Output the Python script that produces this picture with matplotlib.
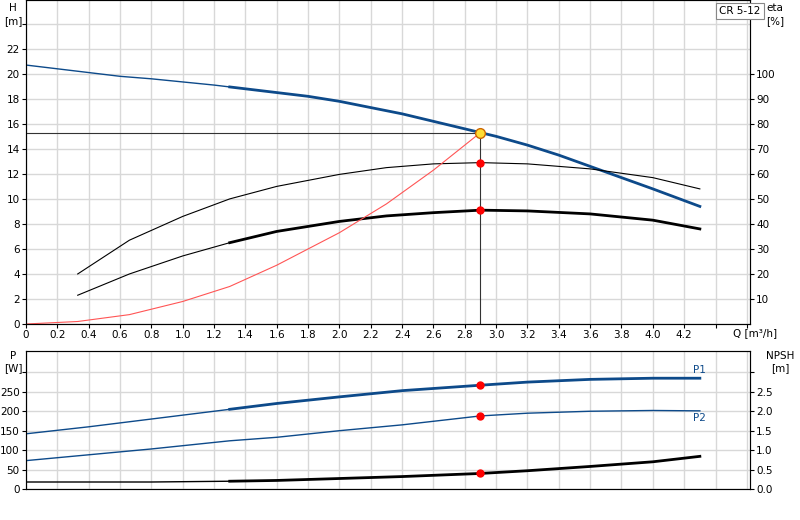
import numpy as np
import matplotlib.pyplot as plt

# pump curve (H) [m]
q_h = [0, 0.2, 0.4, 0.6, 0.8, 1.0, 1.2, 1.3, 1.4, 1.6, 1.8, 2.0, 2.2, 2.4, 2.6, 2.8, 2.9,
       3.0, 3.2, 3.4, 3.6, 3.8, 4.0, 4.3]
h = [20.7, 20.4, 20.1, 19.8, 19.6, 19.35, 19.1, 18.95, 18.8, 18.5, 18.2, 17.8, 17.3, 16.8,
     16.2, 15.6, 15.3, 15.0, 14.3, 13.5, 12.6, 11.7, 10.8, 9.4]
# efficiency curves [%]
q_eta = [0.33, 0.66, 1.0, 1.3, 1.6, 2.0, 2.3, 2.6, 2.9, 3.2, 3.6, 4.0, 4.3]
eta1 = [20, 33.5, 43, 50, 55, 59.8, 62.5, 64, 64.5, 64, 62, 58.5, 54]
eta2 = [11.5, 20, 27.2, 32.5, 37, 41, 43.2, 44.5, 45.5, 45.2, 44, 41.5, 38]
# system curve [m]
q_sys = [0, 0.33, 0.66, 1.0, 1.3, 1.6, 2.0, 2.3, 2.6, 2.9]
h_sys = [0, 0.2, 0.75, 1.8, 3.0, 4.7, 7.3, 9.6, 12.3, 15.3]
# duty point
q_duty = 2.9
h_duty = 15.3

# power [W] and NPSH [m]
q_p = [0, 0.4, 0.8, 1.3, 1.6, 2.0, 2.4, 2.9, 3.2, 3.6, 4.0, 4.3]
p1 = [142, 160, 180, 205, 220, 237, 253, 267, 275, 282, 285, 285]
p2 = [73, 88, 103, 124, 133, 150, 165, 188, 195, 200, 202, 201]
npsh = [0.18, 0.18, 0.18, 0.2, 0.22, 0.27, 0.32, 0.40, 0.47, 0.58, 0.70, 0.84]

blue = '#0d4a8a'
grid = '#d8d8d8'
plt.rcParams['font.size'] = 7.5

fig = plt.figure(figsize=(8, 5.2), dpi=100)
ax = fig.add_axes([26/800, 1-324/520, 724/800, 324/520])
axb = fig.add_axes([26/800, 1-489/520, 724/800, 138/520])


def split(x, y, q0=1.3):
    x = np.array(x); y = np.array(y)
    return (x[x <= q0], y[x <= q0]), (x[x >= q0], y[x >= q0])


for a in (ax, axb):
    a.set_xlim(0, 4.62)
    a.set_xticks(np.arange(0, 4.61, 0.2))
    a.grid(True, color=grid, lw=1)
    a.set_axisbelow(True)
    a.tick_params(length=3, pad=1.5)
    for s in a.spines.values():
        s.set_color('#444444')

# top
ax.set_ylim(0, 25.9)
ax.set_yticks(range(0, 25, 2))
ax.set_yticklabels([str(v) for v in range(0, 23, 2)] + [''])
xl = ['0'] + ['%.1f' % v for v in np.arange(0.2, 4.61, 0.2)]
ax.set_xticklabels(xl[:22] + [''] * (len(xl) - 22))
thin, thick = split(q_h, h)
ax.plot(*thin, color=blue, lw=1)
ax.plot(*thick, color=blue, lw=2)
qe = np.array(q_eta)
ax.plot(qe, np.array(eta1) / 5, color='black', lw=0.8)
t1, t2 = split(q_eta, np.array(eta2) / 5)
ax.plot(*t1, color='black', lw=0.8)
ax.plot(*t2, color='black', lw=2)
ax.plot(q_sys, h_sys, color='#ff5555', lw=0.8)
ax.plot([0, q_duty], [h_duty, h_duty], color='#333333', lw=0.8)
ax.plot([q_duty, q_duty], [0, h_duty], color='#333333', lw=0.8)
ax.plot(q_duty, np.interp(q_duty, q_eta, eta1) / 5, 'o', color='red', ms=5)
ax.plot(q_duty, np.interp(q_duty, q_eta, eta2) / 5, 'o', color='red', ms=5)
ax.plot(q_duty, h_duty, 'o', color='#ffdd33', mec='#cc6600', ms=7)
ax2 = ax.twinx()
ax2.set_ylim(0, 25.9 * 5)
ax2.set_yticks(range(10, 101, 10))
ax2.tick_params(length=3, pad=1.5)
fig.text(13/800, 1-8/520, 'H', ha='center', va='center')
fig.text(13/800, 1-21/520, '[m]', ha='center', va='center')
fig.text(775/800, 1-8/520, 'eta', ha='center', va='center')
fig.text(775/800, 1-21/520, '[%]', ha='center', va='center')
fig.text(740/800, 1-11/520, 'CR 5-12', ha='center', va='center',
         bbox=dict(boxstyle='square,pad=0.3', fc='white', ec='#888888', lw=0.8))
fig.text(733/800, 1-333/520, 'Q [m³/h]', ha='left', va='center')

# bottom
axb.set_ylim(0, 355)
axb.set_yticks(range(0, 301, 50))
axb.set_yticklabels([str(v) for v in range(0, 251, 50)] + [''])
axb.set_xticklabels([])
axb.tick_params(axis='x', length=0)
a1, a2 = split(q_p, p1)
axb.plot(*a1, color=blue, lw=1)
axb.plot(*a2, color=blue, lw=2)
axb.plot(q_p, p2, color=blue, lw=1)
n1, n2 = split(q_p, np.array(npsh) * 100)
axb.plot(*n1, color='black', lw=1)
axb.plot(*n2, color='black', lw=2)
for yy in (p1, p2, np.array(npsh) * 100):
    axb.plot(q_duty, np.interp(q_duty, q_p, yy), 'o', color='red', ms=5)
axb.text(4.3, 292, 'P1', color=blue, ha='center', va='bottom')
axb.text(4.3, 195, 'P2', color=blue, ha='center', va='top')
axb2 = axb.twinx()
axb2.set_ylim(0, 3.55)
axb2.set_yticks(np.arange(0, 3.01, 0.5))
axb2.set_yticklabels(['%.1f' % v for v in np.arange(0, 2.51, 0.5)] + [''])
axb2.tick_params(length=3, pad=1.5)
fig.text(13/800, 1-356/520, 'P', ha='center', va='center')
fig.text(13/800, 1-368/520, '[W]', ha='center', va='center')
fig.text(780/800, 1-356/520, 'NPSH', ha='center', va='center')
fig.text(780/800, 1-368/520, '[m]', ha='center', va='center')

fig.savefig('out.png', dpi=100)
